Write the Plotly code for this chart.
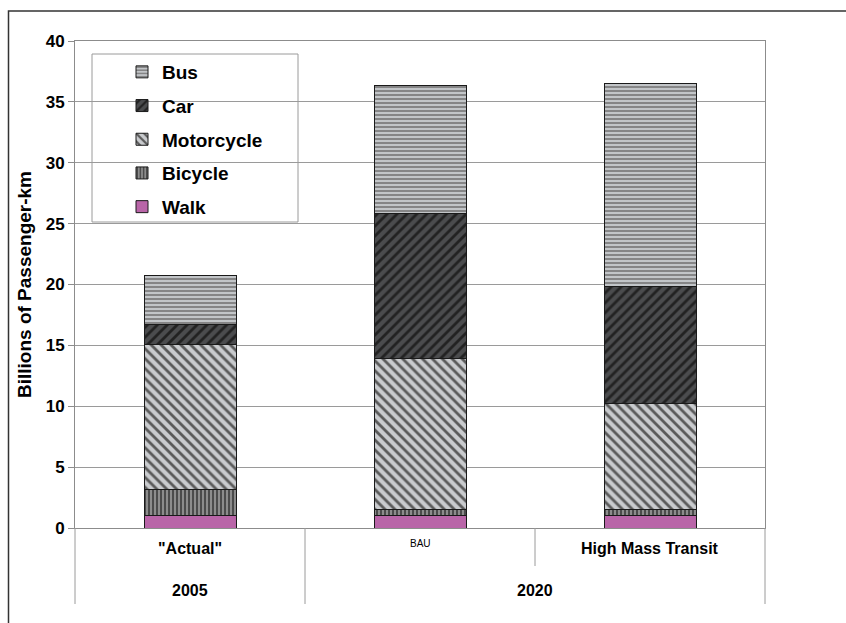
import plotly.graph_objects as go

# ---- data ----
scenarios = ['"Actual"', 'BAU', 'High Mass Transit']
years = ['2005', '2020']
walk = [1.05, 1.0, 1.0]
bicycle = [2.15, 0.55, 0.55]
motorcycle = [11.9, 12.35, 8.65]
car = [1.65, 11.9, 9.6]
bus = [3.95, 10.55, 16.75]
y_ticks = [0, 5, 10, 15, 20, 25, 30, 35, 40]

FONT = "Liberation Sans, Arial, sans-serif"
W, H = 846, 623
L, R, T, B = 75, 81, 41, 95
pw, ph = W - L - R, H - T - B

def px2x(px):
    return (px - L) / pw

def py2y(py):
    return (H - B - py) / ph

xpos = [0, 1, 2]

series = [
    ("Walk", walk, 5, dict(color="#b965a8")),
    ("Bicycle", bicycle, 4, dict(color="#8a8a8a", pattern=dict(shape="|", bgcolor="#8c8c8c", fgcolor="#3a3a3a", size=4, solidity=0.4, fillmode="replace"))),
    ("Motorcycle", motorcycle, 3, dict(color="#c8cacc", pattern=dict(shape="\\", bgcolor="#c9cbce", fgcolor="#5a5a5a", size=7, solidity=0.4, fillmode="replace"))),
    ("Car", car, 2, dict(color="#4a4a4a", pattern=dict(shape="/", bgcolor="#4b4c4e", fgcolor="#222222", size=7, solidity=0.4, fillmode="replace"))),
    ("Bus", bus, 1, dict(color="#c4c7ca", pattern=dict(shape="-", bgcolor="#c2c5c8", fgcolor="#6a6a6a", size=4, solidity=0.35, fillmode="replace"))),
]

fig = go.Figure()
for name, vals, rank, mk in series:
    mk = dict(mk)
    mk["line"] = dict(color="#1a1a1a", width=1)
    fig.add_trace(go.Bar(x=xpos, y=vals, name=name, marker=mk, width=0.4,
                         legendgroup=name, legendrank=rank))

fig.update_layout(
    width=W, height=H,
    margin=dict(l=L, r=R, t=T, b=B),
    barmode="stack",
    paper_bgcolor="white", plot_bgcolor="white",
    font=dict(family=FONT, color="black"),
    showlegend=True,
    legend=dict(
        x=px2x(122), y=py2y(53), xanchor="left", yanchor="top",
        traceorder="grouped", tracegroupgap=6,
        bgcolor="rgba(0,0,0,0)", borderwidth=0,
        font=dict(family=FONT, size=19, color="black", weight="bold"),
    ),
    xaxis=dict(range=[-0.5, 2.5], showticklabels=False, ticks="",
               showline=True, linecolor="#8c8c8c", linewidth=1, mirror=True,
               showgrid=False, zeroline=False, fixedrange=True),
    yaxis=dict(range=[0, 40], tickvals=y_ticks, ticks="outside", ticklen=6,
               tickcolor="#8c8c8c",
               showline=True, linecolor="#8c8c8c", linewidth=1, mirror=True,
               showgrid=True, gridcolor="#9a9a9a", gridwidth=1, zeroline=False,
               tickfont=dict(family=FONT, size=17, color="black", weight="bold"),
               title=dict(text="Billions of Passenger-km", standoff=9,
                          font=dict(family=FONT, size=19, color="black", weight="bold"))),
)

shapes = []
# legend box
shapes.append(dict(type="rect", xref="paper", yref="paper",
                   x0=px2x(92), x1=px2x(298), y0=py2y(222), y1=py2y(54),
                   line=dict(color="#9a9a9a", width=1), fillcolor="white", layer="below"))
# outer frame
shapes.append(dict(type="rect", xref="paper", yref="paper",
                   x0=px2x(8.5), x1=px2x(900), y0=py2y(700), y1=py2y(11),
                   line=dict(color="#333333", width=1.5)))
# category dividers
for px, bottom in [(75, 604), (305, 604), (535, 566), (765, 604)]:
    shapes.append(dict(type="line", xref="paper", yref="paper",
                       x0=px2x(px), x1=px2x(px), y0=py2y(528), y1=py2y(bottom),
                       line=dict(color="#9a9a9a", width=1)))
fig.update_layout(shapes=shapes)

annotations = []
cat_styles = [dict(size=16, weight="bold", py=548), dict(size=10, weight="normal", py=543), dict(size=16, weight="bold", py=548)]
for i, (lab, st) in enumerate(zip(scenarios, cat_styles)):
    annotations.append(dict(x=xpos[i], xref="x", y=py2y(st["py"]), yref="paper",
                            text=lab, showarrow=False, xanchor="center", yanchor="middle",
                            font=dict(family=FONT, size=st["size"], color="black", weight=st["weight"])))
year_x = [px2x(190), px2x(535)]
for yx, lab in zip(year_x, years):
    annotations.append(dict(x=yx, xref="paper", y=py2y(590), yref="paper",
                            text=lab, showarrow=False, xanchor="center", yanchor="middle",
                            font=dict(family=FONT, size=16, color="black", weight="bold")))
fig.update_layout(annotations=annotations)

fig.write_html("out.html")
